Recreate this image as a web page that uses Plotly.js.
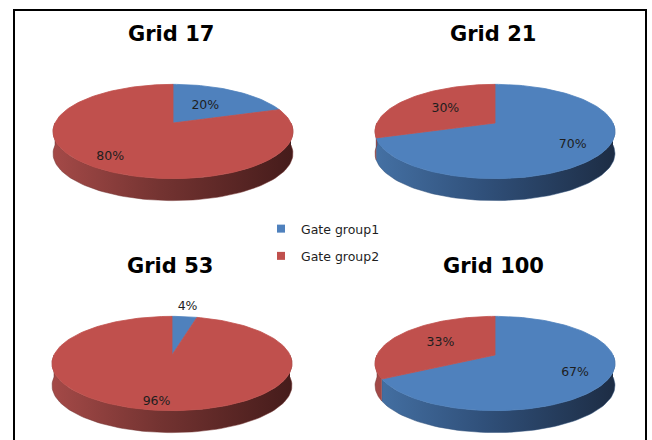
<!DOCTYPE html>
<html>
<head>
<meta charset="utf-8">
<script src="https://cdn.plot.ly/plotly-3.0.1.min.js"></script>
<style>
  html, body { margin: 0; padding: 0; background: #fff; }
  #chart { width: 652px; height: 440px; }
</style>
</head>
<body>
<div id="chart"></div>
<script>
// Share of gates (%) in each group, per grid
const grids = ['Grid 17', 'Grid 21', 'Grid 53', 'Grid 100'];
const gateGroup1 = [20, 70, 4, 67];
const gateGroup2 = [80, 30, 96, 33];
const seriesNames = ['Gate group1', 'Gate group2'];

// Colours: flat top faces and shaded rims
const topColors = ['#4F81BD', '#C0504D'];
const rimScales = [
  [[0, '#4470a3'], [0.45, '#30507a'], [1, '#1d2d45']],
  [[0, '#a34947'], [0.45, '#733331'], [1, '#461c1b']]
];

// Panel geometry (pixel space): pie centres and a tilted-disc projection
const centers = [[173, 123], [495, 123], [172, 355], [495, 355]];
const R = 118, RY = 45.6, K = 0.18, DEPTH = 22;

// angle in degrees clockwise from 12 o'clock, r as a fraction of the radius
function proj(c, deg, r, dy) {
  const t = deg * Math.PI / 180;
  const sx = r * Math.sin(t), sz = r * Math.cos(t);
  const f = 1 / (1 + K * sz);
  return [c[0] + R * sx * f, c[1] - RY * sz * f + (dy || 0)];
}
function arc(c, a0, a1, dy) {
  const n = Math.max(2, Math.ceil(Math.abs(a1 - a0) / 2));
  const pts = [];
  for (let i = 0; i <= n; i++) pts.push(proj(c, a0 + (a1 - a0) * i / n, 1, dy));
  return pts;
}
function polyTrace(pts, extra) {
  return Object.assign({
    type: 'scatter', mode: 'lines', fill: 'toself',
    x: pts.map(p => p[0]), y: pts.map(p => p[1]),
    hoverinfo: 'skip', showlegend: false
  }, extra);
}

const rims = [], tops = [], labels = [[], []];
grids.forEach((g, i) => {
  const c = centers[i];
  const shares = [gateGroup1[i], gateGroup2[i]];
  let start = 0;
  shares.forEach((v, s) => {
    const a0 = start * 3.6, a1 = (start + v) * 3.6;
    start += v;
    // visible front rim of the slice
    const lo = Math.max(a0, 90), hi = Math.min(a1, 270);
    if (hi > lo) {
      const pts = arc(c, lo, hi, 0).concat(arc(c, hi, lo, DEPTH));
      rims.push(polyTrace(pts, {
        line: { color: rimScales[s][1][1], width: 0.5 },
        fillgradient: { type: 'horizontal', colorscale: rimScales[s], start: c[0] - R, stop: c[0] + R }
      }));
    }
    // top face
    const face = [c].concat(arc(c, a0, a1, 0), [c]);
    tops.push(polyTrace(face, {
      fillcolor: topColors[s], line: { color: topColors[s], width: 0.8 }
    }));
    // data label: small slices get it just outside the rim
    const mid = (a0 + a1) / 2;
    const p = v < 10 ? proj(c, mid, 1.3, 0) : proj(c, mid, 0.4 + 0.5 * v / 100, 0);
    labels[s].push({ x: p[0], y: p[1], text: v + '%' });
  });
});

const labelTraces = labels.map(L => ({
  type: 'scatter', mode: 'text',
  x: L.map(d => d.x), y: L.map(d => d.y), text: L.map(d => d.text),
  textposition: 'middle center',
  textfont: { family: 'DejaVu Sans', size: 12.5, color: '#1e1e1e' },
  hoverinfo: 'skip', showlegend: false
}));

const legendTraces = seriesNames.map((name, s) => ({
  type: 'scatter', mode: 'markers', x: [null], y: [null], name: name,
  legendgroup: 'g' + s,
  marker: { symbol: 'square', size: 8, color: topColors[s] }
}));

const titles = grids.map((g, i) => ({
  text: g, x: centers[i][0] - 2, y: centers[i][1] - 89,
  xref: 'x', yref: 'y', showarrow: false, xanchor: 'center', yanchor: 'middle',
  font: { family: 'DejaVu Sans', size: 21, weight: 700, color: '#000' }
}));

const layout = {
  width: 652, height: 440,
  margin: { l: 0, r: 0, t: 0, b: 0 },
  paper_bgcolor: '#fff', plot_bgcolor: '#fff',
  xaxis: { range: [0, 652], visible: false, fixedrange: true },
  yaxis: { range: [440, 0], visible: false, fixedrange: true },
  showlegend: true,
  legend: {
    x: 261 / 652, y: 1 - 214 / 440, xanchor: 'left', yanchor: 'top',
    font: { family: 'DejaVu Sans', size: 12.5, color: '#1e1e1e' },
    traceorder: 'grouped', tracegroupgap: 8, bgcolor: 'rgba(0,0,0,0)'
  },
  annotations: titles,
  shapes: [{
    type: 'rect', xref: 'x', yref: 'y', x0: 14, x1: 646, y0: 10, y1: 460,
    line: { color: '#000', width: 2 }, fillcolor: 'rgba(0,0,0,0)'
  }]
};

Plotly.newPlot('chart', rims.concat(tops, labelTraces, legendTraces), layout,
  { staticPlot: true, displayModeBar: false });
</script>
</body>
</html>
